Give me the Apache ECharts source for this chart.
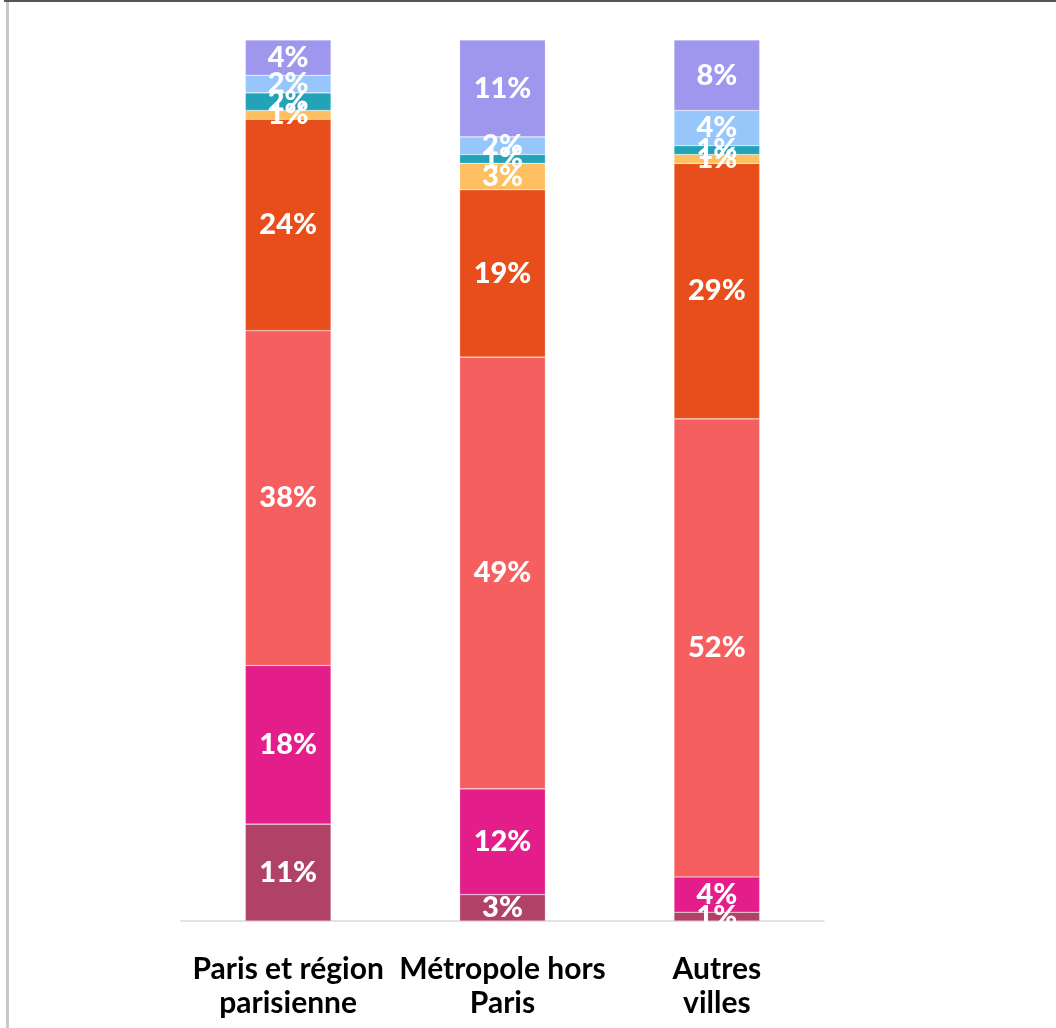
<!DOCTYPE html>
<html>
<head>
<meta charset="utf-8">
<script src="https://cdn.jsdelivr.net/npm/echarts@6/dist/echarts.min.js"></script>
<style>
  html, body { margin: 0; padding: 0; background: #fff; }
  #chart { width: 1056px; height: 1028px; }
</style>
</head>
<body>
<div id="chart"></div>
<script>
// categories (x axis)
const categories = ['Paris et région\nparisienne', 'Métropole hors\nParis', 'Autres\nvilles'];

// stacked shares, bottom to top
const seg1 = [11, 3, 1];
const seg2 = [18, 12, 4];
const seg3 = [38, 49, 52];
const seg4 = [24, 19, 29];
const seg5 = [1, 3, 1];
const seg6 = [2, 1, 1];
const seg7 = [2, 2, 4];
const seg8 = [4, 11, 8];

const segments = [seg1, seg2, seg3, seg4, seg5, seg6, seg7, seg8];
const colors = ['#b04268', '#e31e8a', '#f65f5f', '#e84e1c', '#fdbf5f', '#22a3b8', '#97c6fb', '#9f97ee'];

const chart = echarts.init(document.getElementById('chart'));

const series = segments.map((d, i) => ({
  type: 'bar',
  stack: 'total',
  barWidth: '40%',
  data: d,
  itemStyle: { color: colors[i], borderColor: 'rgba(255,255,255,0.35)', borderWidth: 0.6 },
  label: {
    show: true,
    position: 'inside',
    formatter: '{c}%',
    color: '#fff',
    fontFamily: 'Lato',
    fontWeight: 900,
    fontSize: 29
  }
}));

chart.setOption({
  animation: false,
  backgroundColor: '#fff',
  grid: { left: 181, right: 232, top: 40, bottom: 107 },
  xAxis: {
    type: 'category',
    data: categories,
    axisLine: { lineStyle: { color: '#d9d9d9', width: 1.5 } },
    axisTick: { show: false },
    axisLabel: {
      color: '#000',
      fontFamily: 'Lato',
      fontWeight: 'bold',
      fontSize: 30,
      lineHeight: 34,
      margin: 31,
      interval: 0
    }
  },
  yAxis: {
    type: 'value',
    min: 0,
    max: 100,
    show: false
  },
  graphic: [
    { type: 'rect', shape: { x: 4, y: 0, width: 1052, height: 2 }, style: { fill: '#555' } },
    { type: 'rect', shape: { x: 6, y: 2, width: 3, height: 1026 }, style: { fill: '#c8c8c8' } }
  ],
  series: series
});
</script>
</body>
</html>
